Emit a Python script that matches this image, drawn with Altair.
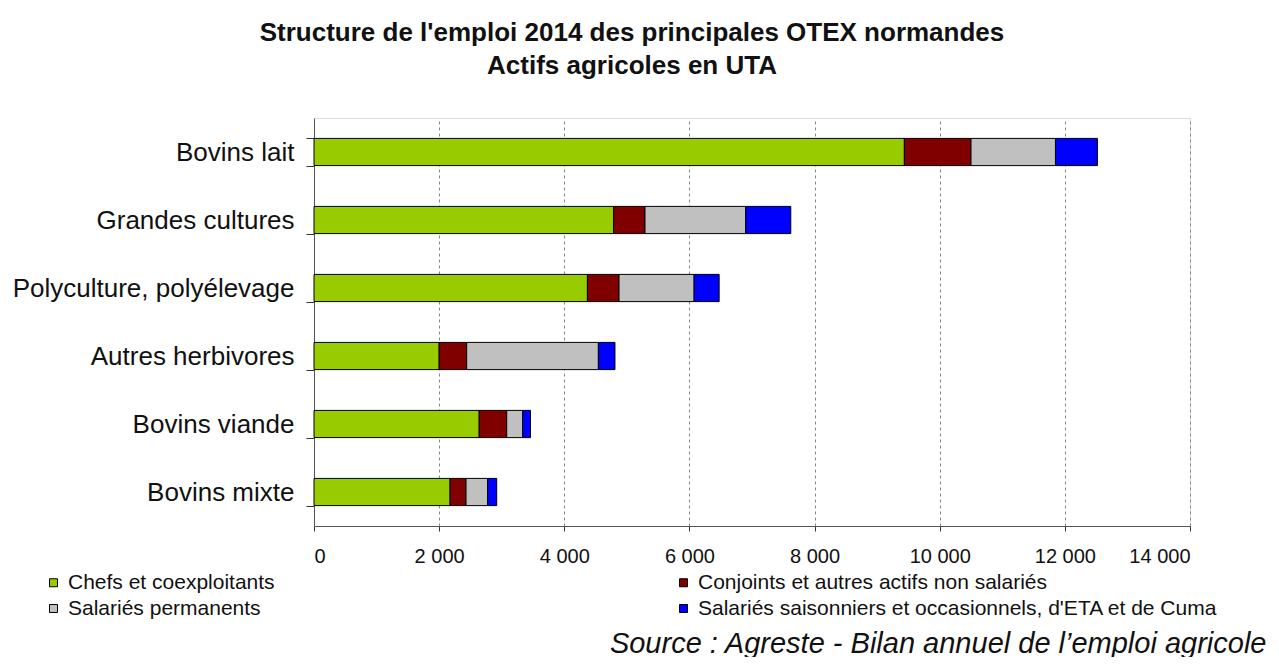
import altair as alt
import pandas as pd

categories = ["Bovins lait", "Grandes cultures", "Polyculture, polyélevage",
              "Autres herbivores", "Bovins viande", "Bovins mixte"]
series = ["Chefs et coexploitants",
          "Conjoints et autres actifs non salariés",
          "Salariés permanents",
          "Salariés saisonniers et occasionnels, d'ETA et de Cuma"]
chefs = [9435, 4790, 4370, 2000, 2640, 2175]
conjoints = [1065, 500, 505, 440, 440, 255]
salaries_perm = [1350, 1610, 1200, 2105, 255, 345]
saisonniers = [670, 720, 400, 265, 125, 145]
colors = ["#99CC00", "#800000", "#C0C0C0", "#0000FF"]
x_ticks = [0, 2000, 4000, 6000, 8000, 10000, 12000, 14000]

rows = []
for si, vals in enumerate([chefs, conjoints, salaries_perm, saisonniers]):
    for c, v in zip(categories, vals):
        rows.append({"otex": c, "serie": series[si], "ordre": si, "uta": v})
df = pd.DataFrame(rows)

# legend is laid out column by column: put the entries in that order
legend_order = [0, 2, 1, 3]
legend_domain = [series[i] for i in legend_order]
legend_range = [colors[i] for i in legend_order]

FONT = "Liberation Sans"

bars = alt.Chart(df).mark_bar(stroke="black", strokeWidth=1).encode(
    y=alt.Y("otex:N", sort=categories,
            scale=alt.Scale(paddingInner=0.6, paddingOuter=0.3),
            axis=alt.Axis(title=None, tickBand="extent", tickSize=8,
                          tickColor="#333", domainColor="#555",
                          labelFontSize=26, labelColor="#111",
                          labelPadding=12, grid=False, labelFont=FONT,
                          labelLimit=400)),
    x=alt.X("uta:Q", stack="zero",
            scale=alt.Scale(domain=[0, 14000], nice=False),
            axis=alt.Axis(values=x_ticks, grid=True, gridDash=[3, 3],
                          gridColor="#888", gridWidth=1,
                          domainColor="#555", tickColor="#333", tickSize=5,
                          labelFontSize=20, labelColor="#111",
                          labelPadding=15, labelFont=FONT,
                          labelExpr="replace(format(datum.value, ',d'), ',', ' ')",
                          title="Source : Agreste - Bilan annuel de l’emploi agricole",
                          titleFont=FONT, titleFontSize=29,
                          titleFontStyle="italic", titleFontWeight="normal",
                          titleColor="#111",
                          titleAnchor="end", titleAlign="right",
                          titleBaseline="alphabetic",
                          titleX=952, titleY=126)),
    color=alt.Color("serie:N",
                    scale=alt.Scale(domain=legend_domain, range=legend_range),
                    legend=alt.Legend(title=None, orient="none",
                                      legendX=-271, legendY=454,
                                      columns=2, columnPadding=398,
                                      rowPadding=4, symbolType="square",
                                      symbolSize=64, symbolStrokeColor="black",
                                      symbolStrokeWidth=1, symbolOpacity=1,
                                      labelFontSize=21, labelFont=FONT,
                                      labelColor="#111", labelLimit=600,
                                      symbolOffset=0, labelOffset=4)),
    order=alt.Order("ordre:Q", sort="ascending"),
)

chart = bars.properties(
    width=876, height=408,
    autosize=alt.AutoSizeParams(type="none"),
    padding={"left": 306, "top": 110, "right": 81, "bottom": 131},
    title=alt.TitleParams(
        text=["Structure de l'emploi 2014 des principales OTEX normandes",
              "Actifs agricoles en UTA"],
        font=FONT, fontSize=26, fontWeight="bold", color="#111",
        anchor="middle", dx=-120, offset=26, lineHeight=33),
).configure_view(stroke=None).configure(background="white")

chart.save("out.html", embed_options={"renderer": "svg", "actions": False})
